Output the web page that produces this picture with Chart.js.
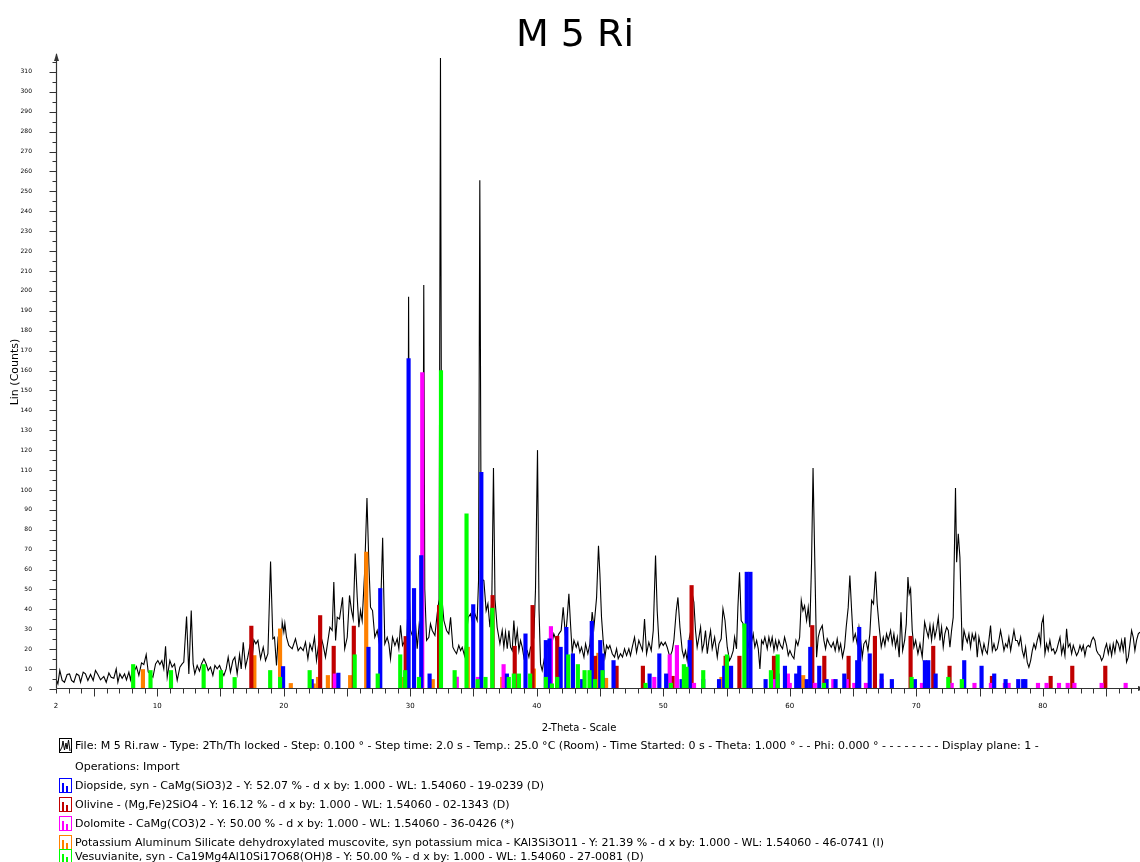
<!DOCTYPE html>
<html>
<head>
<meta charset="utf-8">
<script src="https://cdn.jsdelivr.net/npm/chart.js@4.4.1/dist/chart.umd.min.js"></script>
<style>
  html, body { margin: 0; padding: 0; background: #fff; overflow: hidden; width: 1140px; height: 862px; }
  #wrap { position: absolute; left: 0; top: 0; width: 1150px; height: 862px; }
  canvas { display: block; }
</style>
</head>
<body>
<div id="wrap"><canvas id="xrd" width="1150" height="862"></canvas></div>
<script>
// ---- texts ----
const chartTitle = 'M 5 Ri';
const xTitle = '2-Theta - Scale';
const yTitle = 'Lin (Counts)';
const xLabelValues = [2, 10, 20, 30, 40, 50, 60, 70, 80];

// ---- measured scan: [2-theta (deg), counts] ----
const scan = [
  [2.00,5.1],[2.15,2.6],[2.30,9.3],[2.49,4.3],[2.67,3.4],[2.88,7.3],[3.07,7.6],[3.23,4.3],[3.41,3.4],[3.62,7.6],
  [3.81,6.8],[3.94,3.4],[4.15,8.5],[4.33,7.6],[4.52,4.3],[4.73,7.3],[4.94,4.3],[5.12,9.3],[5.31,7.3],[5.52,4.6],
  [5.78,6.3],[5.97,3.4],[6.18,8.1],[6.36,5.9],[6.57,5.4],[6.76,10.1],[6.89,3.4],[7.05,7.6],[7.23,5.4],[7.42,7.6],
  [7.57,4.6],[7.76,8.5],[7.89,4.6],[8.02,9.3],[8.15,8.5],[8.36,11.3],[8.55,6.8],[8.76,13.1],[8.94,12.3],[9.13,17.3],
  [9.29,8.5],[9.47,7.6],[9.66,5.9],[9.87,12.6],[10.05,14.3],[10.21,12.3],[10.37,14.3],[10.52,10.1],[10.66,21.4],[10.79,5.9],
  [11.00,14.3],[11.18,11.0],[11.37,12.6],[11.58,4.3],[11.79,11.0],[11.97,12.6],[12.10,13.5],[12.32,36.4],[12.50,7.6],[12.69,39.4],
  [12.84,12.6],[12.97,7.6],[13.16,11.8],[13.34,9.0],[13.50,12.6],[13.69,15.2],[13.87,12.6],[14.03,9.3],[14.21,11.0],[14.40,6.8],
  [14.56,11.8],[14.74,10.1],[14.93,11.8],[15.08,9.3],[15.27,6.8],[15.45,10.1],[15.61,16.0],[15.79,8.5],[15.98,14.3],[16.14,16.0],
  [16.32,7.6],[16.51,17.3],[16.64,10.1],[16.80,23.5],[16.98,11.0],[17.16,16.0],[17.32,21.4],[17.51,16.0],[17.64,24.7],[17.80,22.7],
  [17.96,24.4],[18.17,15.2],[18.38,21.0],[18.56,14.3],[18.75,17.7],[18.96,64.0],[19.14,25.2],[19.27,26.0],[19.43,11.8],[19.56,26.4],
  [19.75,16.0],[19.88,33.6],[20.01,28.6],[20.09,33.0],[20.22,26.0],[20.40,21.9],[20.67,20.2],[20.93,25.2],[21.14,19.3],[21.33,21.0],
  [21.54,19.3],[21.72,23.5],[21.91,15.2],[22.07,22.7],[22.25,19.3],[22.43,26.0],[22.59,14.3],[22.78,23.5],[22.96,26.0],[23.12,21.9],
  [23.30,16.0],[23.44,21.9],[23.65,31.0],[23.83,29.4],[23.96,53.7],[24.10,24.4],[24.23,36.0],[24.41,35.2],[24.65,46.1],[24.82,20.2],
  [25.02,26.0],[25.20,47.0],[25.36,39.4],[25.49,35.2],[25.65,68.0],[25.81,46.1],[25.94,31.0],[26.07,39.4],[26.20,34.4],[26.39,58.0],
  [26.58,96.0],[26.73,63.0],[26.86,41.0],[27.02,39.4],[27.20,26.0],[27.39,29.4],[27.52,24.4],[27.70,49.5],[27.82,76.0],[27.99,22.7],
  [28.18,26.0],[28.31,22.7],[28.44,15.2],[28.60,26.0],[28.79,21.9],[28.97,25.2],[29.10,20.2],[29.23,32.0],[29.39,21.9],[29.58,24.4],
  [29.71,21.0],[29.80,38.0],[29.87,197.0],[29.95,45.0],[30.02,29.4],[30.21,26.0],[30.42,32.7],[30.55,20.2],[30.71,32.7],[30.90,28.0],
  [31.00,60.0],[31.07,203.0],[31.15,50.0],[31.29,24.4],[31.47,26.0],[31.60,32.7],[31.74,29.4],[31.95,26.9],[32.13,37.8],[32.28,45.0],
  [32.39,317.0],[32.50,46.0],[32.66,34.4],[32.87,29.4],[33.05,27.7],[33.19,36.0],[33.37,21.0],[33.50,19.3],[33.66,17.7],[33.84,21.9],
  [33.98,19.3],[34.11,21.0],[34.29,16.8],[34.45,27.7],[34.58,36.0],[34.77,37.8],[34.95,32.7],[35.11,37.8],[35.29,34.4],[35.40,54.5],
  [35.50,255.6],[35.60,80.0],[35.70,55.0],[35.82,54.5],[36.00,39.4],[36.14,42.8],[36.30,31.0],[36.45,45.0],[36.58,111.0],[36.70,45.0],
  [36.87,31.0],[37.09,22.7],[37.27,29.4],[37.40,21.0],[37.53,28.6],[37.67,20.2],[37.80,29.4],[37.93,21.0],[38.06,19.3],[38.19,34.4],
  [38.32,22.7],[38.46,29.4],[38.59,19.3],[38.72,24.4],[38.85,21.0],[38.98,16.0],[39.11,20.2],[39.25,19.3],[39.38,16.0],[39.51,21.0],
  [39.64,20.2],[39.77,26.0],[39.90,49.5],[40.06,120.0],[40.18,40.0],[40.30,12.6],[40.43,9.3],[40.62,16.0],[40.77,20.2],[40.96,24.4],
  [41.14,21.0],[41.35,27.7],[41.54,24.4],[41.75,27.7],[41.93,29.4],[42.09,41.0],[42.28,26.0],[42.41,36.0],[42.54,47.8],[42.67,32.7],
  [42.80,18.4],[42.94,24.4],[43.12,21.0],[43.25,23.5],[43.41,18.4],[43.54,21.0],[43.73,16.0],[43.86,22.7],[44.04,17.7],[44.20,22.7],
  [44.38,38.6],[44.52,31.0],[44.73,46.0],[44.88,72.0],[44.99,57.9],[45.12,36.0],[45.25,24.4],[45.39,16.0],[45.52,21.9],[45.65,20.2],
  [45.78,21.9],[45.97,17.7],[46.15,16.0],[46.31,20.2],[46.44,15.2],[46.62,17.7],[46.78,16.0],[46.94,20.2],[47.10,16.8],[47.28,20.2],
  [47.41,16.8],[47.55,21.0],[47.73,26.0],[47.89,18.4],[48.07,24.4],[48.21,21.9],[48.36,19.3],[48.52,35.2],[48.68,17.7],[48.86,23.5],
  [49.05,19.3],[49.21,29.4],[49.39,67.0],[49.52,39.4],[49.68,21.0],[49.84,23.5],[50.00,21.9],[50.16,23.5],[50.31,21.0],[50.52,16.0],
  [50.71,19.3],[50.84,24.4],[51.03,39.4],[51.16,46.0],[51.32,31.0],[51.50,19.3],[51.63,16.0],[51.76,19.3],[51.89,14.3],[52.05,25.2],
  [52.18,29.4],[52.29,47.8],[52.42,43.6],[52.55,29.4],[52.68,21.0],[52.82,26.0],[52.95,31.0],[53.08,19.3],[53.21,22.7],[53.34,29.4],
  [53.48,17.7],[53.61,24.4],[53.74,29.4],[53.87,20.2],[54.06,26.0],[54.27,16.0],[54.40,22.7],[54.58,25.2],[54.72,40.3],[54.88,34.4],
  [55.06,21.0],[55.24,14.3],[55.37,16.0],[55.53,19.3],[55.64,26.0],[55.79,20.2],[55.90,41.0],[56.03,58.7],[56.16,34.4],[56.30,33.0],
  [56.43,24.4],[56.59,27.7],[56.77,21.0],[56.95,22.7],[57.11,27.7],[57.24,21.0],[57.38,24.4],[57.51,20.2],[57.64,10.1],[57.77,24.4],
  [57.90,22.7],[58.03,26.0],[58.22,20.2],[58.35,26.0],[58.48,21.9],[58.61,26.0],[58.75,19.3],[58.88,24.4],[59.01,20.2],[59.14,24.4],
  [59.27,21.9],[59.43,20.2],[59.59,26.0],[59.75,21.9],[59.88,16.8],[60.01,19.3],[60.17,16.8],[60.33,15.2],[60.49,24.4],[60.64,21.9],
  [60.78,26.0],[60.91,44.5],[61.04,39.4],[61.17,41.9],[61.33,34.4],[61.46,41.0],[61.59,31.0],[61.72,63.0],[61.84,111.0],[61.97,67.0],
  [62.12,16.0],[62.25,26.0],[62.38,29.4],[62.57,31.9],[62.70,24.4],[62.83,20.2],[62.96,25.2],[63.12,22.7],[63.28,21.0],[63.44,23.5],
  [63.59,19.3],[63.75,25.2],[63.89,19.3],[64.02,22.7],[64.17,16.0],[64.33,21.0],[64.46,31.0],[64.62,41.0],[64.75,57.0],[64.89,39.4],
  [65.02,24.4],[65.18,27.7],[65.33,22.7],[65.47,31.0],[65.60,24.4],[65.73,16.0],[65.86,22.7],[66.02,24.4],[66.18,19.3],[66.33,27.7],
  [66.47,44.5],[66.62,42.8],[66.78,59.0],[66.91,42.8],[67.07,31.0],[67.23,21.0],[67.39,26.0],[67.52,21.9],[67.65,27.7],[67.78,24.4],
  [67.97,29.4],[68.10,22.7],[68.23,27.7],[68.36,21.0],[68.50,26.0],[68.65,16.0],[68.79,38.6],[68.92,19.3],[69.08,24.4],[69.21,32.7],
  [69.34,56.2],[69.44,47.8],[69.55,50.3],[69.68,29.4],[69.81,21.0],[69.95,24.4],[70.13,17.7],[70.29,22.7],[70.47,16.0],[70.66,33.6],
  [70.81,29.4],[70.95,26.0],[71.08,32.0],[71.21,24.4],[71.34,32.0],[71.47,26.0],[71.61,30.2],[71.74,36.0],[71.87,24.4],[72.00,31.0],
  [72.13,21.0],[72.26,27.7],[72.40,31.0],[72.53,29.4],[72.66,21.0],[72.79,29.4],[72.92,36.0],[73.10,101.0],[73.19,63.7],[73.32,78.0],
  [73.45,66.0],[73.56,37.8],[73.63,19.3],[73.77,29.4],[73.90,26.0],[74.03,23.5],[74.16,27.7],[74.29,21.0],[74.42,27.7],[74.56,24.4],
  [74.69,27.7],[74.82,16.0],[74.95,26.0],[75.08,21.9],[75.22,17.7],[75.35,22.7],[75.48,19.3],[75.61,17.7],[75.74,24.4],[75.87,31.9],
  [76.01,19.3],[76.14,22.7],[76.27,19.3],[76.40,20.2],[76.53,24.4],[76.66,29.4],[76.80,24.4],[76.93,19.3],[77.06,22.7],[77.19,21.0],
  [77.32,26.0],[77.46,19.3],[77.59,24.4],[77.72,29.4],[77.85,24.4],[77.98,24.4],[78.11,21.9],[78.25,26.0],[78.38,19.3],[78.51,16.0],
  [78.64,21.0],[78.77,13.5],[78.90,10.9],[79.04,14.3],[79.17,19.3],[79.30,22.7],[79.43,20.2],[79.56,24.4],[79.70,27.7],[79.83,22.7],
  [79.91,32.7],[80.04,36.0],[80.17,17.7],[80.30,22.7],[80.43,19.3],[80.56,24.4],[80.70,19.3],[80.83,20.2],[80.96,17.7],[81.09,19.3],
  [81.22,22.7],[81.36,26.0],[81.49,17.7],[81.62,21.9],[81.75,16.8],[81.88,30.2],[82.01,21.0],[82.15,22.7],[82.28,17.7],[82.41,21.9],
  [82.54,19.3],[82.67,16.8],[82.80,18.4],[82.94,21.9],[83.07,19.3],[83.20,21.9],[83.33,16.8],[83.46,21.0],[83.60,21.9],[83.73,21.0],
  [83.86,24.4],[83.99,26.0],[84.12,24.4],[84.25,19.3],[84.38,17.7],[84.52,16.8],[84.65,14.3],[84.78,16.0],[84.91,20.2],[85.04,22.7],
  [85.18,17.7],[85.31,21.9],[85.44,16.8],[85.57,22.7],[85.70,18.4],[85.83,24.4],[85.97,22.7],[86.10,19.3],[86.23,24.4],[86.36,19.3],
  [86.49,26.0],[86.62,13.5],[86.76,16.0],[86.89,22.7],[87.02,29.4],[87.15,26.0],[87.28,19.3],[87.41,24.4],[87.55,27.7],[87.68,28.6]
];

// ---- reference sticks: [2-theta (deg), counts] ----
const diopside = [
  [19.95,11.3],[22.21,4.8],[24.32,8.0],[26.70,21.0],[27.63,50.5],[29.87,166.0],[30.30,50.5],[30.87,67.0],[31.53,7.6],[34.98,42.4],
  [35.62,108.8],[37.64,7.6],[39.11,27.7],[40.72,24.4],[41.01,25.2],[41.89,21.0],[42.34,31.0],[42.86,17.7],[43.59,4.8],[44.35,34.0],
  [45.02,24.4],[45.20,17.7],[46.07,14.3],[48.92,7.6],[49.69,17.7],[50.23,7.6],[51.45,4.8],[52.09,24.4],[53.16,4.8],[54.41,4.8],
  [54.82,11.5],[55.36,11.5],[56.60,58.7],[56.89,58.7],[58.09,4.8],[59.04,7.6],[59.62,11.5],[60.51,7.6],[60.75,11.5],[61.34,4.8],
  [61.62,21.0],[62.33,11.5],[62.91,4.8],[63.62,4.8],[64.31,7.6],[65.33,14.3],[65.49,31.0],[66.32,17.7],[67.26,7.6],[68.07,4.8],
  [69.89,4.8],[70.68,14.3],[70.95,14.3],[71.53,7.6],[73.79,14.3],[75.16,11.5],[76.16,7.6],[77.06,4.8],[78.06,4.8],[78.45,4.8],
  [78.62,4.8]
];
const olivine = [
  [17.44,31.6],[22.88,36.9],[23.95,21.5],[25.54,31.6],[29.64,26.4],[32.28,42.0],[36.51,47.0],[38.26,21.5],[39.67,42.0],[41.62,26.5],
  [44.60,16.5],[46.31,11.5],[48.39,11.5],[50.74,6.4],[52.24,52.0],[54.93,16.5],[56.02,16.5],[58.75,16.5],[61.78,31.9],[62.73,16.5],
  [64.65,16.5],[66.73,26.5],[69.55,26.5],[71.34,21.5],[72.63,11.5],[75.98,6.4],[80.62,6.4],[82.33,11.5],[84.94,11.5]
];
const dolomite = [
  [24.04,7.6],[30.95,159.0],[33.68,6.0],[35.35,5.9],[37.38,12.3],[41.12,31.4],[49.29,5.9],[50.51,17.2],[51.08,21.9],[52.43,2.9],
  [58.80,4.8],[59.85,7.6],[60.00,2.9],[61.98,2.9],[63.44,4.8],[64.50,4.8],[65.10,2.9],[66.02,2.9],[67.26,4.8],[70.45,2.9],
  [72.80,2.9],[74.60,2.9],[75.90,2.9],[77.00,2.9],[77.30,2.9],[79.62,2.9],[80.30,2.9],[81.28,2.9],[81.97,2.9],[82.50,2.9],
  [84.65,2.9],[86.55,2.9]
];
const muscovite = [
  [8.87,9.8],[17.68,16.8],[19.71,30.2],[20.56,2.8],[22.37,2.6],[22.71,5.9],[23.49,6.8],[25.25,6.8],[26.52,68.8],[29.40,5.9],
  [31.78,4.8],[34.55,21.0],[37.27,5.9],[39.77,10.1],[44.87,18.0],[45.48,5.4],[54.60,5.9],[61.06,6.8]
];
const vesuvianite = [
  [8.10,12.3],[9.47,9.3],[11.09,9.3],[13.67,12.3],[15.04,9.3],[16.12,5.8],[18.93,9.3],[19.71,5.9],[22.05,9.3],[25.61,17.2],
  [27.43,7.6],[29.21,17.2],[29.60,9.3],[30.69,5.9],[32.43,160.0],[33.51,9.3],[34.45,88.0],[35.33,4.8],[35.95,5.9],[36.49,40.6],
  [37.79,5.9],[38.19,7.6],[38.59,7.6],[39.48,7.6],[40.72,5.9],[41.20,2.6],[41.62,5.9],[42.49,17.2],[43.25,12.3],[43.78,9.3],
  [44.17,9.3],[44.60,4.8],[45.20,9.3],[48.60,2.9],[50.60,2.9],[51.63,12.3],[51.84,11.0],[53.16,9.3],[55.03,17.2],[56.41,32.7],
  [58.51,9.3],[59.04,17.2],[62.70,2.9],[69.63,5.9],[72.53,5.9],[73.60,4.8]
];

// ---- legend lines ----
const scanInfo = 'File: M 5 Ri.raw - Type: 2Th/Th locked - Step: 0.100 ° - Step time: 2.0 s - Temp.: 25.0 °C (Room) - Time Started: 0 s - Theta: 1.000 ° - - Phi: 0.000 ° - - - - - - - - Display plane: 1 -';
const operationsInfo = 'Operations: Import';
const phaseInfo = [
  'Diopside, syn - CaMg(SiO3)2 - Y: 52.07 % - d x by: 1.000 - WL: 1.54060 - 19-0239 (D)',
  'Olivine - (Mg,Fe)2SiO4 - Y: 16.12 % - d x by: 1.000 - WL: 1.54060 - 02-1343 (D)',
  'Dolomite - CaMg(CO3)2 - Y: 50.00 % - d x by: 1.000 - WL: 1.54060 - 36-0426 (*)',
  'Potassium Aluminum Silicate dehydroxylated muscovite, syn potassium mica - KAl3Si3O11 - Y: 21.39 % - d x by: 1.000 - WL: 1.54060 - 46-0741 (I)',
  'Vesuvianite, syn - Ca19Mg4Al10Si17O68(OH)8 - Y: 50.00 % - d x by: 1.000 - WL: 1.54060 - 27-0081 (D)'
];

// ---- styling ----
const FONT = '"DejaVu Sans", Verdana, sans-serif';
const phaseColors = ['#0000ff', '#c00000', '#ff00ff', '#ff8000', '#00ff00'];
const phaseSticks = [diopside, olivine, dolomite, muscovite, vesuvianite];
// drawing order: lower `order` is painted later (on top)
const phaseOrder = [2, 4, 3, 5, 1];

const toXY = arr => arr.map(([x, y]) => ({ x, y }));

const datasets = [{
  type: 'line',
  label: 'M 5 Ri.raw',
  data: toXY(scan),
  borderColor: '#000',
  borderWidth: 1.1,
  pointRadius: 0,
  tension: 0,
  fill: false,
  order: 9
}];
phaseSticks.forEach((sticks, i) => {
  datasets.push({
    type: 'bar',
    label: phaseInfo[i].split(' - ')[0],
    data: toXY(sticks),
    backgroundColor: phaseColors[i],
    borderWidth: 0,
    barThickness: 3.5,
    grouped: false,
    order: phaseOrder[i]
  });
});

const rowY = [746, 767, 786, 805, 824, 843, 857];

const decorations = {
  id: 'decorations',
  afterDatasetsDraw(chart) {
    const { ctx, chartArea: a, scales: { x, y } } = chart;
    ctx.save();
    ctx.strokeStyle = '#333';
    ctx.fillStyle = '#333';
    ctx.lineWidth = 1.2;
    const left = Math.round(a.left) + 0.5;
    const bottom = Math.round(a.bottom) - 0.5;
    // axis lines
    ctx.beginPath();
    ctx.moveTo(left, bottom);
    ctx.lineTo(left, a.top - 2);
    ctx.moveTo(left, bottom);
    ctx.lineTo(a.right, bottom);
    ctx.stroke();
    // arrow heads
    ctx.beginPath();
    ctx.moveTo(left, a.top - 3);
    ctx.lineTo(left - 2.5, a.top + 5);
    ctx.lineTo(left + 2.5, a.top + 5);
    ctx.closePath();
    ctx.fill();
    ctx.beginPath();
    ctx.moveTo(a.right + 2, bottom);
    ctx.lineTo(a.right - 6, bottom - 2.5);
    ctx.lineTo(a.right - 6, bottom + 2.5);
    ctx.closePath();
    ctx.fill();
    // tick marks
    ctx.lineWidth = 1;
    ctx.beginPath();
    for (let v = x.min; v <= x.max; v += 1) {
      const px = Math.round(x.getPixelForValue(v)) + 0.5;
      const len = v % 5 === 0 ? 8 : 5;
      ctx.moveTo(px, bottom);
      ctx.lineTo(px, bottom + len);
    }
    for (let v = 0; v <= 315; v += 5) {
      const py = Math.round(y.getPixelForValue(v)) + 0.5;
      const len = v % 10 === 0 ? 7 : 4;
      ctx.moveTo(left, py);
      ctx.lineTo(left - len, py);
    }
    ctx.stroke();
    // x tick labels
    ctx.fillStyle = '#000';
    ctx.font = '7px ' + FONT;
    ctx.textAlign = 'center';
    ctx.textBaseline = 'middle';
    xLabelValues.forEach(v => ctx.fillText(String(v), x.getPixelForValue(v), a.bottom + 17));
    ctx.restore();
  },
  afterDraw(chart) {
    const { ctx } = chart;
    ctx.save();
    ctx.fillStyle = '#000';
    // title
    ctx.font = '38px ' + FONT;
    ctx.textAlign = 'center';
    ctx.textBaseline = 'alphabetic';
    ctx.fillText(chartTitle, 575, 46);
    // axis titles
    ctx.font = '10px ' + FONT;
    ctx.textBaseline = 'middle';
    ctx.fillText(xTitle, 579, 728);
    ctx.save();
    ctx.translate(15, 372);
    ctx.rotate(-Math.PI / 2);
    ctx.font = '11px ' + FONT;
    ctx.fillText(yTitle, 0, 0);
    ctx.restore();

    // legend block
    ctx.font = '11px ' + FONT;
    ctx.textAlign = 'left';
    const k = 469 / ctx.measureText(phaseInfo[0]).width;
    const writeRow = (text, yc) => {
      ctx.save();
      ctx.translate(75, yc);
      ctx.scale(k, 1);
      ctx.fillStyle = '#000';
      ctx.fillText(text, 0, 0);
      ctx.restore();
    };
    const iconBox = (yc, color) => {
      ctx.strokeStyle = color;
      ctx.lineWidth = 1;
      ctx.strokeRect(59.5, yc - 7.5, 12, 14);
    };
    iconBox(rowY[0], '#000');
    ctx.beginPath();
    ctx.moveTo(60, rowY[0] + 5);
    [[62, 1], [63, -5], [64.5, 4], [66, -3], [67, 3], [68.5, -6], [70, 5]].forEach(([px, dy]) => ctx.lineTo(px, rowY[0] + dy));
    ctx.stroke();
    writeRow(scanInfo, rowY[0]);
    writeRow(operationsInfo, rowY[1]);
    phaseInfo.forEach((text, i) => {
      const yc = rowY[i + 2];
      iconBox(yc, phaseColors[i]);
      ctx.fillStyle = phaseColors[i];
      ctx.fillRect(62, yc - 3, 2, 9);
      ctx.fillRect(66, yc + 0, 2, 6);
      writeRow(text, yc);
    });
    ctx.restore();
  }
};

Chart.defaults.font.family = FONT;
Chart.defaults.color = '#000';

new Chart(document.getElementById('xrd'), {
  type: 'bar',
  data: { datasets },
  options: {
    responsive: false,
    animation: false,
    events: [],
    layout: { padding: { left: 0, right: 6, top: 56, bottom: 173 } },
    plugins: { legend: { display: false }, tooltip: { enabled: false }, title: { display: false } },
    scales: {
      x: {
        type: 'linear',
        min: 2,
        max: 88,
        offset: false,
        grid: { display: false },
        border: { display: false },
        ticks: { display: false, stepSize: 1 },
        afterFit: s => { s.height = 0; }
      },
      y: {
        type: 'linear',
        min: 0,
        max: 318,
        grid: { display: false },
        border: { display: false },
        ticks: {
          stepSize: 10,
          includeBounds: false,
          autoSkip: false,
          padding: 16,
          font: { size: 6 }
        },
        afterFit: s => { s.width = 56; }
      }
    }
  },
  plugins: [decorations]
});
</script>
</body>
</html>
